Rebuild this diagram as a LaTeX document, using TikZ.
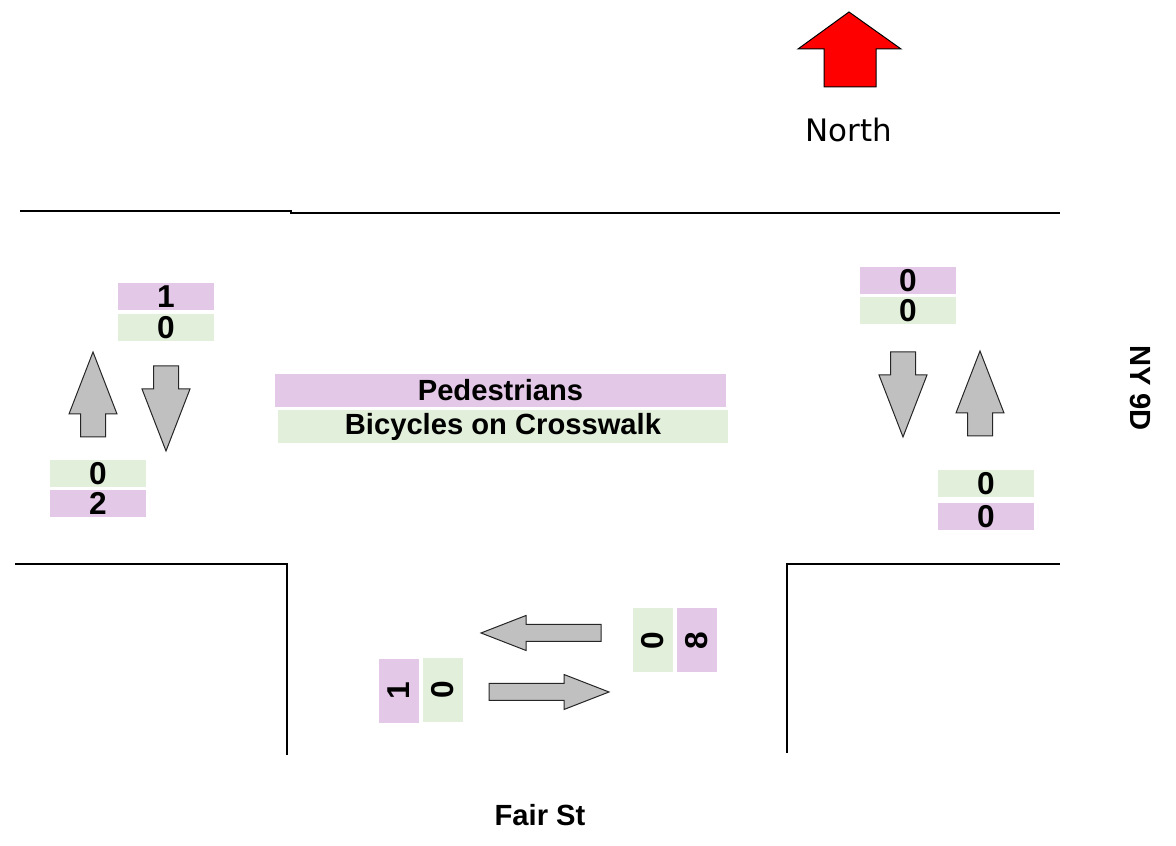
\documentclass[tikz,border=0pt]{standalone}
\usepackage{fontspec}
\setmainfont{Liberation Sans}
\newfontfamily\northfont{DejaVu Sans}
\usetikzlibrary{positioning}

\definecolor{pedpink}{RGB}{227,200,231}
\definecolor{bikegreen}{RGB}{226,239,218}
\definecolor{lanegray}{RGB}{192,192,192}

\begin{document}
\begin{tikzpicture}
    [x=0.1mm, y=-0.1mm,
     every node/.style={font=\fontsize{8.3}{10}\selectfont\bfseries, inner sep=0pt},
     cnt/.style={minimum width=9.6mm, minimum height=2.7mm, font=\fontsize{9}{10}\selectfont\bfseries},
     vcnt/.style={cnt, minimum width=6.4mm, minimum height=4mm, rotate=90},
     ped/.style={fill=pedpink},
     bike/.style={fill=bikegreen},
     curb/.style={draw=black, line width=0.28mm},
     lane/.style={draw=black!85, fill=lanegray, line width=0.1mm},
     vlane/.pic={\draw [lane] (0,0) -- (24,62) -- (12.5,62) -- (12.5,85)
                 -- (-12.5,85) -- (-12.5,62) -- (-24,62) -- cycle;},
     hlane/.pic={\draw [lane] (0,0) -- (45,-17.5) -- (45,-8.5) -- (120,-8.5)
                 -- (120,8.5) -- (45,8.5) -- (45,17.5) -- cycle;},
    ]
    \useasboundingbox (0,0) rectangle (1176,846);

    % north marker
    \draw [fill=red, draw=black, line width=0.1mm] (849,12) -- (901,49) -- (876,49)
        -- (876,87) -- (824,87) -- (824,49) -- (798,49) -- cycle;
    \node (north) at (849,130) {\northfont\mdseries\fontsize{8.8}{10}\selectfont North};

    % curbs
    \draw [curb] (20,211) -- (292,211);
    \draw [curb] (290,213) -- (1060,213);
    \draw [curb] (15,564) -- (287,564) -- (287,755);
    \draw [curb] (787,753) -- (787,564) -- (1060,564);

    % street names
    \node (ny9d) at (1141,388) [rotate=-90] {NY 9D};
    \node (fairst) at (540,815) {Fair St};

    % legend
    \node (legPed) at (500.5,390.5) [ped, minimum width=45.1mm, minimum height=3.3mm] {Pedestrians};
    \node (legBike) at (503,426.5) [bike, minimum width=45mm, minimum height=3.3mm] {Bicycles on Crosswalk};

    % west leg
    \pic at (93,352) {vlane};
    \pic [rotate=180] at (166,451) {vlane};
    \node (wPedIn) at (166,296.5) [cnt, ped] {1};
    \node (wBikeIn) [cnt, bike, below=0.3mm of wPedIn] {0};
    \node (wBikeOut) at (98,473.5) [cnt, bike] {0};
    \node (wPedOut) [cnt, ped, below=0.2mm of wBikeOut] {2};

    % east leg
    \pic [rotate=180] at (903,437) {vlane};
    \pic at (980,351) {vlane};
    \node (ePedIn) at (908,280.5) [cnt, ped] {0};
    \node (eBikeIn) [cnt, bike, below=0.2mm of ePedIn] {0};
    \node (eBikeOut) at (986,484) [cnt, bike] {0};
    \node (ePedOut) [cnt, ped, below=0.4mm of eBikeOut] {0};

    % south leg
    \pic at (481,633) {hlane};
    \pic [rotate=180] at (609,692) {hlane};
    \node (sPedIn) at (399,691) [vcnt, ped] {1};
    \node (sBikeIn) at (443,690) [vcnt, bike] {0};
    \node (sBikeOut) at (653,640.5) [vcnt, bike] {0};
    \node (sPedOut) at (697,640.5) [vcnt, ped] {8};

\end{tikzpicture}
\end{document}
